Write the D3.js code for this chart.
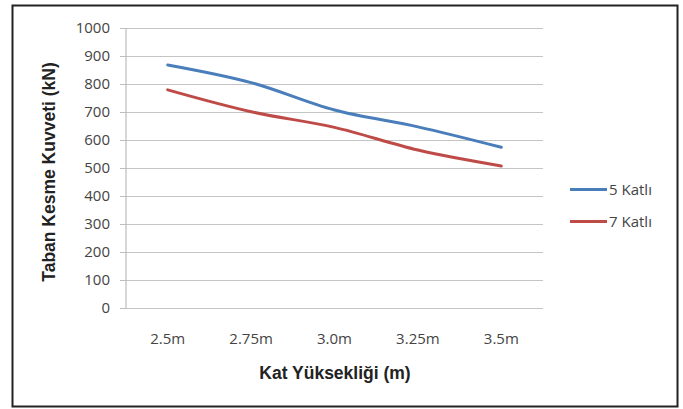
<!DOCTYPE html>
<html>
<head>
<meta charset="utf-8">
<script src="https://cdn.jsdelivr.net/npm/d3@7"></script>
<style>
  html, body { margin: 0; padding: 0; background: #fff; }
  svg { display: block; font-family: "Open Sans", "Noto Sans", sans-serif; }
</style>
</head>
<body>
<svg id="chart" width="683" height="409"></svg>
<script>
// Kat yüksekliğine göre taban kesme kuvveti
const categories = ["2.5m", "2.75m", "3.0m", "3.25m", "3.5m"];
const seriesNames = ["5 Katlı", "7 Katlı"];
const values5 = [868, 805, 707, 647, 574];
const values7 = [779, 701, 645, 564, 507];
const yTicks = [0, 100, 200, 300, 400, 500, 600, 700, 800, 900, 1000];
const colors = ["#4a7ebb", "#be4b48"];

const svg = d3.select("#chart");

// outer frame
svg.append("rect")
  .attr("x", 12.5).attr("y", 5.5).attr("width", 665).attr("height", 401)
  .attr("fill", "#fff").attr("stroke", "#222").attr("stroke-width", 2);

const plot = { left: 126, right: 543, top: 28, bottom: 308 };

const x = d3.scaleBand().domain(categories).range([plot.left, plot.right]);
const y = d3.scaleLinear().domain([0, 1000]).range([plot.bottom, plot.top]);

// horizontal gridlines with tick marks
const yAxis = d3.axisLeft(y).tickValues(yTicks).tickFormat(d3.format("d"))
  .tickSize(6).tickPadding(10);
const gy = svg.append("g").attr("transform", `translate(${plot.left},0)`).call(yAxis);
gy.select(".domain").remove();
gy.selectAll(".tick line").attr("stroke", "#bdbdbd");
gy.selectAll(".tick").append("line")
  .attr("x1", 0).attr("x2", plot.right - plot.left)
  .attr("stroke", "#c4c4c4").attr("stroke-width", 1.2);
gy.selectAll(".tick text")
  .attr("fill", "#444").attr("font-size", 15).attr("font-family", "Open Sans, sans-serif");

// vertical axis line
svg.append("line")
  .attr("x1", plot.left).attr("x2", plot.left)
  .attr("y1", plot.top).attr("y2", plot.bottom)
  .attr("stroke", "#bdbdbd").attr("stroke-width", 1.2);

// category axis labels
const xAxis = d3.axisBottom(x).tickSize(0).tickPadding(25);
const gx = svg.append("g").attr("transform", `translate(0,${plot.bottom})`).call(xAxis);
gx.select(".domain").remove();
gx.selectAll(".tick text")
  .attr("fill", "#444").attr("font-size", 15).attr("font-family", "Open Sans, sans-serif");

// axis titles
svg.append("text")
  .attr("transform", `translate(55,${(plot.top + plot.bottom) / 2 + 4}) rotate(-90)`)
  .attr("text-anchor", "middle")
  .attr("font-family", "Liberation Sans, Arial, sans-serif")
  .attr("font-weight", "bold").attr("font-size", 17.5).attr("fill", "#222")
  .text("Taban Kesme Kuvveti (kN)");

svg.append("text")
  .attr("x", 335).attr("y", 379)
  .attr("text-anchor", "middle")
  .attr("font-family", "Liberation Sans, Arial, sans-serif")
  .attr("font-weight", "bold").attr("font-size", 17.5).attr("fill", "#222")
  .text("Kat Yüksekliği (m)");

// smoothed series lines
const line = d3.line()
  .x((d, i) => x(categories[i]) + x.bandwidth() / 2)
  .y(d => y(d))
  .curve(d3.curveCatmullRom.alpha(0.5));

[values5, values7].forEach((vals, k) => {
  svg.append("path")
    .datum(vals)
    .attr("d", line)
    .attr("fill", "none")
    .attr("stroke", colors[k])
    .attr("stroke-width", 3)
    .attr("stroke-linecap", "round");
});

// legend
const legend = svg.append("g").attr("transform", "translate(570,189.5)");
seriesNames.forEach((name, k) => {
  const g = legend.append("g").attr("transform", `translate(0,${k * 32})`);
  g.append("line").attr("x1", 0).attr("x2", 37).attr("y1", 0).attr("y2", 0)
    .attr("stroke", colors[k]).attr("stroke-width", 3);
  g.append("text").attr("x", 39).attr("y", 5.5)
    .attr("font-size", 15).attr("fill", "#444")
    .attr("font-family", "Open Sans, sans-serif")
    .text(name);
});
</script>
</body>
</html>
